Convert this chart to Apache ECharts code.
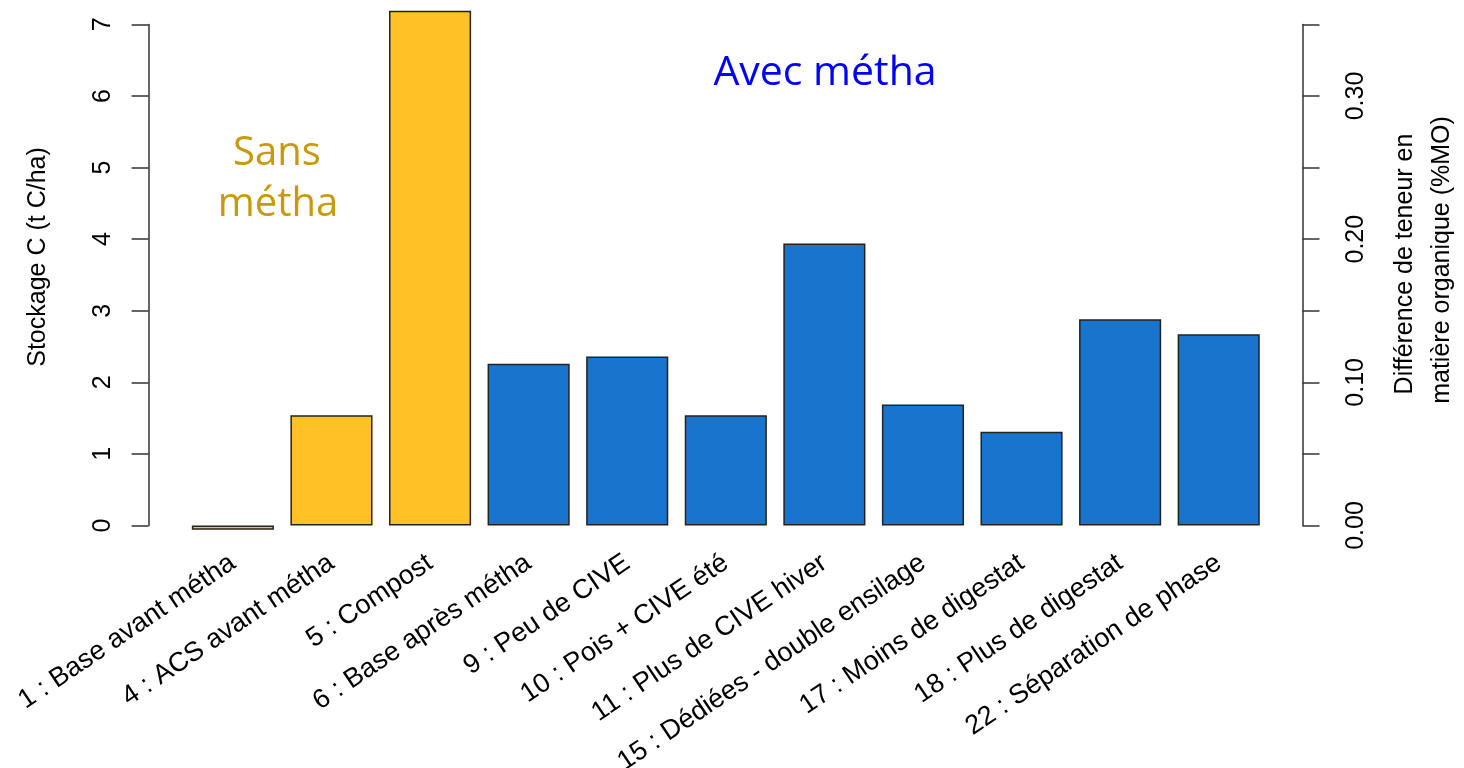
<!DOCTYPE html>
<html>
<head>
<meta charset="utf-8">
<script src="https://cdn.jsdelivr.net/npm/echarts@6/dist/echarts.min.js"></script>
<style>
html,body{margin:0;padding:0;background:#fff;}
#chart{width:1464px;height:768px;}
</style>
</head>
<body>
<div id="chart"></div>
<script>
var categories = ['1 : Base avant métha','4 : ACS avant métha','5 : Compost','6 : Base après métha','9 : Peu de CIVE','10 : Pois + CIVE été','11 : Plus de CIVE hiver','15 : Dédiées - double ensilage','17 : Moins de digestat','18 : Plus de digestat','22 : Séparation de phase'];
var stockageC = [-0.06, 1.54, 7.19, 2.26, 2.36, 1.54, 3.94, 1.69, 1.31, 2.88, 2.67];
var groups = ['sans','sans','sans','avec','avec','avec','avec','avec','avec','avec','avec'];
var groupColors = {sans:'#FFC125', avec:'#1874CD'};
var leftTicks = {min:0, max:7, interval:1};
var rightTicks = {min:0, max:0.35, interval:0.05};
var rightLabelValues = [0, 0.10, 0.20, 0.30];

var chart = echarts.init(document.getElementById('chart'));
var font = 'Liberation Sans, Arial, sans-serif';
var axisCol = '#333';

var option = {
  animation:false,
  backgroundColor:'#fff',
  grid:{left:183.6, right:196, top:24.4, bottom:242.5, containLabel:false, outerBoundsMode:'none'},
  xAxis:{
    type:'category',
    data:categories,
    axisLine:{show:false},
    axisTick:{show:false},
    axisLabel:{rotate:34, margin:35, interval:0, color:'#000', fontFamily:font, fontSize:27}
  },
  yAxis:[
    {
      type:'value', position:'left', offset:35,
      min:leftTicks.min, max:leftTicks.max, interval:leftTicks.interval,
      splitLine:{show:false},
      axisLine:{show:true, lineStyle:{color:axisCol, width:1.5}},
      axisTick:{show:true, inside:false, length:17, lineStyle:{color:axisCol, width:1.5}},
      axisLabel:{rotate:90, margin:33, color:'#000', fontFamily:font, fontSize:25}
    },
    {
      type:'value', position:'right', offset:34.5,
      min:rightTicks.min, max:rightTicks.max, interval:rightTicks.interval,
      splitLine:{show:false},
      axisLine:{show:true, lineStyle:{color:axisCol, width:1.5}},
      axisTick:{show:true, inside:false, length:17, lineStyle:{color:axisCol, width:1.5}},
      axisLabel:{rotate:90, margin:41, color:'#000', fontFamily:font, fontSize:25,
        formatter:function(v){
          for (var i=0;i<rightLabelValues.length;i++){ if (Math.abs(v-rightLabelValues[i])<1e-6) return v.toFixed(2); }
          return '';
        }}
    }
  ],
  series:[{
    type:'bar',
    yAxisIndex:0,
    clip:false,
    barCategoryGap:'16.7%',
    data:stockageC.map(function(v,i){
      return {value:v, itemStyle:{color:groupColors[groups[i]]}};
    }),
    itemStyle:{borderColor:'#222', borderWidth:1.5}
  }],
  graphic:[
    {type:'text', x:38, y:257, rotation:Math.PI/2,
      style:{text:'Stockage C (t C/ha)', fontFamily:font, fontSize:25, fill:'#000', align:'center', verticalAlign:'middle'}},
    {type:'text', x:1405, y:264, rotation:Math.PI/2,
      style:{text:'Différence de teneur en', fontFamily:font, fontSize:25, fill:'#000', align:'center', verticalAlign:'middle'}},
    {type:'text', x:1442, y:260, rotation:Math.PI/2,
      style:{text:'matière organique (%MO)', fontFamily:font, fontSize:25, fill:'#000', align:'center', verticalAlign:'middle'}},
    {type:'text', x:277, y:154,
      style:{text:'Sans', fontFamily:'Open Sans', fontSize:40, fill:'#C9990A', align:'center', verticalAlign:'middle'}},
    {type:'text', x:278, y:205,
      style:{text:'métha', fontFamily:'Open Sans', fontSize:40, fill:'#C9990A', align:'center', verticalAlign:'middle'}},
    {type:'text', x:825, y:73,
      style:{text:'Avec métha', fontFamily:'Open Sans', fontSize:41, fill:'#0000FF', align:'center', verticalAlign:'middle'}}
  ]
};
chart.setOption(option);
</script>
</body>
</html>
